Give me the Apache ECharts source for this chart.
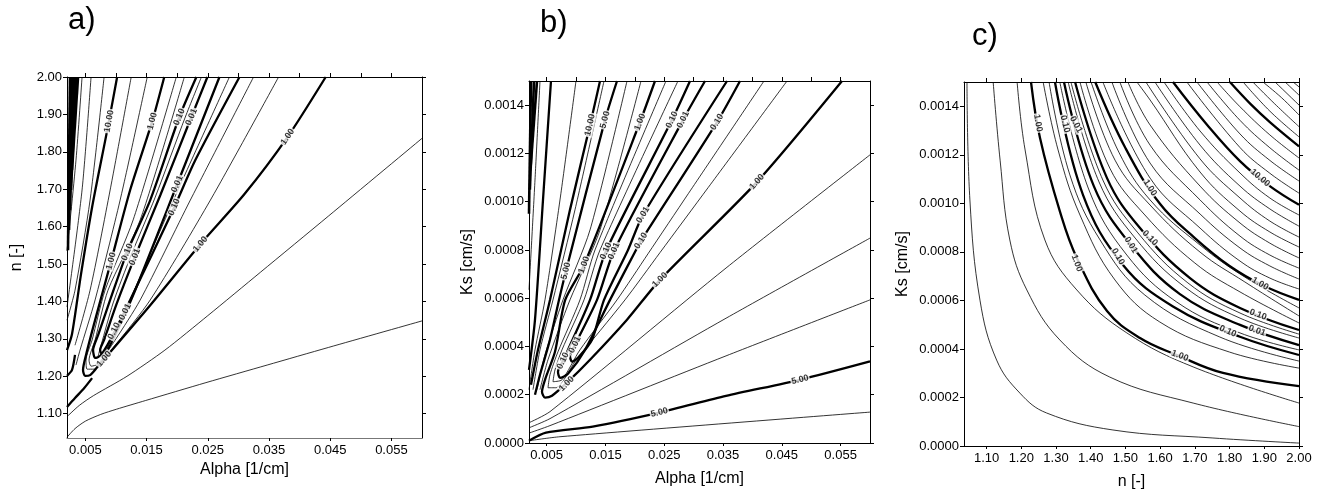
<!DOCTYPE html>
<html><head><meta charset="utf-8">
<script src="https://cdn.jsdelivr.net/npm/echarts@6/dist/echarts.min.js"></script>
<style>html,body{margin:0;padding:0;background:#fff}#c{width:1321px;height:500px}</style>
</head><body><div id="c"></div><script>
// ---------- axis ticks / labels ----------
const alphaLabels = [0.005, 0.015, 0.025, 0.035, 0.045, 0.055];
const alphaTopTicks = [0.005, 0.01, 0.015, 0.02, 0.025, 0.03, 0.035, 0.04, 0.045, 0.05, 0.055];
const nLabels = [1.10, 1.20, 1.30, 1.40, 1.50, 1.60, 1.70, 1.80, 1.90, 2.00];
const ksLabels = [0, 0.0002, 0.0004, 0.0006, 0.0008, 0.0010, 0.0012, 0.0014];
const alphaRange = [0.002, 0.06];
const nRange = [1.035, 2.0];
const ksRange = [0, 0.0015];

// ---------- panel a: n vs Alpha ----------
const aDense1 = [[0.00249,2.0],[0.00216,1.537]];
const aDense2 = [[0.00282,2.0],[0.00233,1.591]];
const aDense3 = [[0.00315,2.0],[0.00249,1.644]];
const aDense4 = [[0.00347,2.0],[0.00266,1.698]];
const aDense5 = [[0.0038,2.0],[0.00282,1.751]];
const aL1 = [[0.00446,2.0],[0.00347,1.778],[0.002,1.535]];
const aL2 = [[0.00593,2.0],[0.00446,1.698],[0.002,1.385]];
const aL3 = [[0.00806,2.0],[0.00577,1.671],[0.00331,1.430],[0.002,1.350]];
const aL4 = [[0.01019,2.0],[0.00855,1.856],[0.0061,1.652],[0.00429,1.473],[0.00282,1.313],[0.002,1.270]];
const aL5 = [[0.01249,2.0],[0.00905,1.698],[0.00577,1.430],[0.00331,1.283]];
const aL6 = [[0.01511,2.0],[0.01068,1.671],[0.00659,1.404],[0.00413,1.270],[0.00347,1.230]];
const aOne = [[0.01789,2.0],[0.01593,1.882],[0.01232,1.698],[0.00921,1.508],[0.00659,1.350],[0.00511,1.257],[0.00462,1.217],[0.00495,1.201],[0.00577,1.203],[0.00692,1.224],[0.0156,1.390],[0.02379,1.553],[0.031,1.687],[0.03805,1.840],[0.04427,2.0]];
const aE0 = [[0.002,1.118],[0.00331,1.142],[0.00479,1.168],[0.0061,1.195]];
const aE1 = [[0.002,1.201],[0.00282,1.217],[0.00331,1.257]];
const aT2 = [[0.01986,2.0],[0.01281,1.618],[0.00822,1.430],[0.0061,1.297],[0.00511,1.243],[0.00528,1.219],[0.00642,1.219],[0.00987,1.283],[0.0156,1.404],[0.02543,1.671],[0.03657,2.0]];
const aT1 = [[0.02117,2.0],[0.01396,1.618],[0.0087,1.430],[0.00659,1.297],[0.0056,1.243],[0.00593,1.227],[0.00708,1.233],[0.00987,1.297],[0.01396,1.404],[0.02215,1.671],[0.03248,2.0]];
const aLoop10 = [[0.02314,2.0],[0.02035,1.893],[0.0156,1.671],[0.01183,1.532],[0.00905,1.404],[0.00708,1.310],[0.00626,1.270],[0.00659,1.249],[0.00741,1.254],[0.00905,1.297],[0.01232,1.404],[0.01953,1.652],[0.02297,1.778],[0.03018,2.0]];
const aLoopMid = [[0.02396,2.0],[0.02133,1.893],[0.01642,1.679],[0.01249,1.524],[0.00954,1.396],[0.00757,1.283],[0.00708,1.254],[0.0079,1.257],[0.00937,1.302],[0.01265,1.417],[0.0197,1.682],[0.02854,2.0]];
const aLoop01 = [[0.02494,2.0],[0.02232,1.893],[0.01724,1.684],[0.01309,1.519],[0.01003,1.390],[0.00806,1.297],[0.00741,1.270],[0.00773,1.259],[0.00839,1.265],[0.00987,1.310],[0.01314,1.430],[0.02002,1.714],[0.02691,2.0]];
const aA2 = [[0.002,1.092],[0.0040,1.122],[0.0063,1.148],[0.0118,1.200],[0.0180,1.270],[0.0250,1.362],[0.0336,1.478],[0.0447,1.628],[0.060,1.836]];
const aA1 = [[0.002,1.037],[0.0033,1.060],[0.0050,1.080],[0.0075,1.098],[0.0101,1.112],[0.0148,1.135],[0.0247,1.183],[0.0347,1.230],[0.0447,1.277],[0.060,1.348]];
const aThin = [aL1, aL2, aL3, aL5, aL6, aT2, aT1, aLoopMid, aA2, aA1];
const aThick = [aL4, aOne, aE0, aE1, aLoop10, aLoop01];
const aDense = [aDense1, aDense2, aDense3, aDense4, aDense5];
const aLabels = [[0.00888,1.882,'10.00'],[0.01593,1.882,'1.00'],[0.02035,1.893,'0.10'],[0.02232,1.893,'0.01'],
  [0.02002,1.714,'0.01'],[0.01953,1.652,'0.10'],[0.03805,1.840,'1.00'],[0.02379,1.553,'1.00'],[0.00806,1.246,'1.00'],
  [0.00921,1.508,'1.00'],[0.01183,1.532,'0.10'],[0.01309,1.519,'0.01'],[0.0115,1.372,'0.01'],[0.0097,1.321,'0.10']];
const aLabelRot = [80,75,67,67,66,66,55,50,49,75,68,68,63,63];

// ---------- panel b: Ks vs Alpha ----------
const bDense1 = [[0.00234,15.0e-4],[0.002,9.5e-4]];
const bDense2 = [[0.00285,15.0e-4],[0.00215,10.5e-4]];
const bDense3 = [[0.00336,15.0e-4],[0.0023,11.5e-4]];
const bL1 = [[0.00387,15.0e-4],[0.00302,10.90e-4],[0.002,6.35e-4]];
const bL2 = [[0.00574,15.0e-4],[0.00438,10.07e-4],[0.00302,5.11e-4],[0.002,3.03e-4]];
const bL3 = [[0.00999,15.0e-4],[0.00727,10.07e-4],[0.00472,5.93e-4],[0.00302,3.86e-4],[0.002,2.21e-4]];
const bTen = [[0.01408,15.0e-4],[0.01238,13.18e-4],[0.00897,9.66e-4],[0.00557,5.93e-4],[0.00353,3.86e-4],[0.00234,2.41e-4]];
const bT1 = [[0.01476,15.0e-4],[0.00982,9.66e-4],[0.00608,5.93e-4],[0.00387,3.86e-4],[0.00268,2.21e-4]];
const bFive = [[0.01697,15.0e-4],[0.01493,13.39e-4],[0.00829,7.13e-4],[0.0071,5.93e-4],[0.00557,4.28e-4],[0.00387,2.83e-4],[0.00302,2.0e-4]];
const bT2 = [[0.01867,15.0e-4],[0.01238,8.83e-4],[0.00778,5.93e-4],[0.00472,3.66e-4],[0.00336,2.21e-4]];
const bT3 = [[0.02105,15.0e-4],[0.01408,8.83e-4],[0.00897,5.93e-4],[0.00523,3.45e-4],[0.00387,2.21e-4]];
const bOne = [[0.02343,15.0e-4],[0.02088,13.30e-4],[0.01136,7.38e-4],[0.00816,5.93e-4],[0.00642,3.78e-4],[0.00472,2.62e-4],[0.00421,2.12e-4],[0.00472,1.88e-4],[0.00591,1.96e-4],[0.00846,2.50e-4],[0.01238,3.45e-4],[0.01867,5.11e-4],[0.02428,6.76e-4],[0.04078,10.82e-4],[0.05524,15.0e-4]];
const bLoopA = [[0.0253,15.0e-4],[0.01323,8.0e-4],[0.01067,5.93e-4],[0.00693,3.78e-4],[0.00557,2.83e-4],[0.00523,2.29e-4],[0.00659,2.29e-4],[0.00982,3.37e-4],[0.01833,5.93e-4],[0.02428,7.89e-4],[0.03249,10.59e-4],[0.04589,15.0e-4]];
const bLoopB = [[0.02734,15.0e-4],[0.01408,8.0e-4],[0.01136,5.93e-4],[0.00761,3.86e-4],[0.00642,3.03e-4],[0.00608,2.54e-4],[0.00761,2.62e-4],[0.01067,3.86e-4],[0.01697,5.93e-4],[0.02224,7.84e-4],[0.02909,10.33e-4],[0.04197,15.0e-4]];
const bLoop10 = [[0.02939,15.0e-4],[0.02632,13.39e-4],[0.0151,7.96e-4],[0.01238,5.93e-4],[0.00863,3.86e-4],[0.00778,3.41e-4],[0.00693,2.95e-4],[0.00727,2.70e-4],[0.00863,2.87e-4],[0.01153,3.86e-4],[0.01578,5.93e-4],[0.0202,8.0e-4],[0.02105,8.38e-4],[0.03398,13.30e-4],[0.03789,15.0e-4]];
const bLoop01 = [[0.03194,15.0e-4],[0.0282,13.39e-4],[0.01646,7.96e-4],[0.01357,5.93e-4],[0.00982,4.07e-4],[0.00897,3.61e-4],[0.00931,3.37e-4],[0.01033,3.53e-4],[0.01272,4.28e-4],[0.01476,5.93e-4],[0.01884,8.0e-4],[0.02139,9.45e-4],[0.03568,15.0e-4]];
const bR5 = [[0.002,0.84e-4],[0.00557,1.30e-4],[0.03551,7.25e-4],[0.060,11.94e-4]];
const bR4 = [[0.002,0.63e-4],[0.00557,1.01e-4],[0.03551,5.17e-4],[0.060,8.49e-4]];
const bR3 = [[0.002,0.41e-4],[0.00557,0.72e-4],[0.03551,3.61e-4],[0.060,5.93e-4]];
const bR2 = [[0.002,0.095e-4],[0.00489,0.43e-4],[0.01284,0.68e-4],[0.02416,1.26e-4],[0.03551,1.95e-4],[0.0481,2.62e-4],[0.060,3.38e-4]];
const bR1 = [[0.002,0.095e-4],[0.00727,0.26e-4],[0.060,1.28e-4]];
const bThin = [bL1, bL3, bT1, bT2, bT3, bLoopA, bLoopB, bR5, bR4, bR3, bR1];
const bThick = [bL2, bTen, bFive, bOne, bLoop10, bLoop01, bR2];
const bDense = [bDense1, bDense2, bDense3];
const bLabels = [[0.01238,13.18e-4,'10.00'],[0.01493,13.39e-4,'5.00'],[0.02088,13.30e-4,'1.00'],[0.02632,13.39e-4,'0.10'],
  [0.0282,13.39e-4,'0.01'],[0.03398,13.30e-4,'0.10'],[0.04078,10.82e-4,'1.00'],[0.02428,6.76e-4,'1.00'],[0.0084,2.45e-4,'1.00'],
  [0.02416,1.26e-4,'5.00'],[0.0481,2.62e-4,'5.00'],[0.00829,7.13e-4,'5.00'],[0.01136,7.38e-4,'1.00'],[0.0151,7.96e-4,'0.10'],
  [0.01646,7.96e-4,'0.01'],[0.02139,9.45e-4,'0.01'],[0.02105,8.38e-4,'0.10'],[0.00778,3.41e-4,'0.10'],[0.00982,4.07e-4,'0.01']];
const bLabelRot = [77,75,69,64,64,58,48,45,45,14,14,76,70,66,66,58,58,64,64];

// ---------- panel c: Ks vs n ----------
const cC1 = [[1.0436,15.0e-4],[1.052,10.14e-4],[1.081,6.01e-4],[1.129,3.54e-4],[1.196,2.18e-4],[1.273,1.36e-4],[1.464,0.66e-4],[1.752,0.33e-4],[2.0,0.12e-4]];
const cC2 = [[1.119,15.0e-4],[1.139,11.78e-4],[1.167,8.49e-4],[1.216,6.43e-4],[1.311,4.37e-4],[1.455,2.84e-4],[1.695,1.77e-4],[2.0,0.80e-4]];
const cC3 = [[1.188,15.0e-4],[1.211,12.2e-4],[1.268,8.49e-4],[1.360,6.43e-4],[1.504,4.66e-4],[1.695,3.26e-4],[2.0,1.77e-4]];
const cOneLow = [[1.228,15.0e-4],[1.254,12.69e-4],[1.311,9.68e-4],[1.360,7.75e-4],[1.447,5.56e-4],[1.542,4.45e-4],[1.648,3.75e-4],[1.781,3.01e-4],[2.0,2.47e-4]];
const cB1 = [[1.263,15.0e-4],[1.306,12.2e-4],[1.369,9.52e-4],[1.470,6.84e-4],[1.599,5.11e-4],[1.800,3.87e-4],[2.0,3.21e-4]];
const cB2 = [[1.280,15.0e-4],[1.340,11.17e-4],[1.427,8.49e-4],[1.556,6.22e-4],[1.772,4.49e-4],[2.0,3.50e-4]];
const cBandLow = [[1.297,15.0e-4],[1.378,10.34e-4],[1.493,7.46e-4],[1.637,5.75e-4],[1.830,4.50e-4],[2.0,3.75e-4]];
const cB3 = [[1.311,15.0e-4],[1.395,10.55e-4],[1.504,7.87e-4],[1.648,5.93e-4],[1.830,4.66e-4],[2.0,3.96e-4]];
const cBandMid = [[1.323,15.0e-4],[1.409,10.71e-4],[1.516,8.28e-4],[1.657,6.26e-4],[1.830,4.99e-4],[2.0,4.16e-4]];
const cB4 = [[1.335,15.0e-4],[1.424,10.88e-4],[1.528,8.57e-4],[1.671,6.55e-4],[1.830,5.27e-4],[2.0,4.45e-4]];
const cB5 = [[1.343,15.0e-4],[1.435,10.96e-4],[1.536,8.78e-4],[1.680,6.72e-4],[1.830,5.48e-4],[2.0,4.61e-4]];
const cBandUp = [[1.355,15.0e-4],[1.447,11.04e-4],[1.542,8.98e-4],[1.686,6.92e-4],[1.830,5.69e-4],[2.0,4.78e-4]];
const cB6 = [[1.369,15.0e-4],[1.455,11.45e-4],[1.556,9.52e-4],[1.700,7.54e-4],[1.830,6.35e-4],[2.0,5.07e-4]];
const cB7 = [[1.386,15.0e-4],[1.470,11.78e-4],[1.571,9.93e-4],[1.715,7.99e-4],[1.844,6.76e-4],[2.0,5.36e-4]];
const cB8 = [[1.401,15.0e-4],[1.481,12.11e-4],[1.571,10.14e-4],[1.715,8.28e-4],[1.844,6.96e-4],[2.0,5.69e-4]];
const cOneUp = [[1.413,15.0e-4],[1.5,12.28e-4],[1.6,9.97e-4],[1.7,8.57e-4],[1.8,7.42e-4],[1.9,6.59e-4],[2.0,6.02e-4]];
const cK1 = [[1.435,15.0e-4],[1.571,11.04e-4],[1.715,8.98e-4],[1.830,7.62e-4],[1.916,6.92e-4],[2.0,6.47e-4]];
const cK2 = [[1.461,15.0e-4],[1.571,11.66e-4],[1.715,9.56e-4],[1.830,8.16e-4],[1.916,7.42e-4],[2.0,6.88e-4]];
const cK3 = [[1.484,15.0e-4],[1.571,12.40e-4],[1.715,10.14e-4],[1.830,8.65e-4],[1.916,7.87e-4],[2.0,7.33e-4]];
const cK4 = [[1.507,15.0e-4],[1.571,13.23e-4],[1.715,10.71e-4],[1.830,9.19e-4],[1.916,8.36e-4],[2.0,7.75e-4]];
const cK5 = [[1.533,15.0e-4],[1.571,14.26e-4],[1.715,11.29e-4],[1.830,9.68e-4],[1.916,8.82e-4],[2.0,8.20e-4]];
const cK6 = [[1.559,15.0e-4],[1.715,11.83e-4],[1.830,10.22e-4],[1.916,9.27e-4],[2.0,8.61e-4]];
const cK7 = [[1.585,15.0e-4],[1.715,12.40e-4],[1.830,10.71e-4],[1.916,9.77e-4],[2.0,9.06e-4]];
const cK8 = [[1.611,15.0e-4],[1.715,12.98e-4],[1.830,11.25e-4],[1.916,10.22e-4],[2.0,9.52e-4]];
const cTen = [[1.637,15.0e-4],[1.735,13.24e-4],[1.830,11.74e-4],[1.916,10.71e-4],[2.0,9.94e-4]];
const cM1 = [[1.677,15.0e-4],[1.830,12.30e-4],[1.916,11.24e-4],[2.0,10.42e-4]];
const cM2 = [[1.706,15.0e-4],[1.830,12.86e-4],[1.916,11.77e-4],[2.0,10.92e-4]];
const cM3 = [[1.735,15.0e-4],[1.830,13.42e-4],[1.916,12.29e-4],[2.0,11.37e-4]];
const cM4 = [[1.764,15.0e-4],[1.830,13.98e-4],[1.916,12.82e-4],[2.0,11.87e-4]];
const cTR = [[1.801,15.0e-4],[1.860,14.10e-4],[1.916,13.35e-4],[2.0,12.35e-4]];
const cN1 = [[1.839,15.0e-4],[1.916,13.80e-4],[2.0,12.74e-4]];
const cN2 = [[1.867,15.0e-4],[1.930,14.10e-4],[2.0,13.16e-4]];
const cN3 = [[1.896,15.0e-4],[1.950,14.35e-4],[2.0,13.64e-4]];
const cN4 = [[1.931,15.0e-4],[2.0,14.05e-4]];
const cN5 = [[1.960,15.0e-4],[2.0,14.46e-4]];
const cN6 = [[1.983,15.0e-4],[2.0,14.80e-4]];
const cThin = [cC1, cC2, cC3, cB1, cB2, cB3, cB4, cB5, cB6, cB7, cB8, cK1, cK2, cK3, cK4, cK5, cK6, cK7, cK8, cM1, cM2, cM3, cM4, cN1, cN2, cN3, cN4, cN5, cN6];
const cThick = [cOneLow, cBandLow, cBandMid, cBandUp, cOneUp, cTen, cTR];
const cLabels = [[1.248,13.31e-4,'1.00'],[1.360,7.54e-4,'1.00'],[1.657,3.72e-4,'1.00'],[1.326,13.27e-4,'0.10'],[1.358,13.25e-4,'0.01'],
  [1.571,8.57e-4,'0.10'],[1.516,8.28e-4,'0.01'],[1.479,7.81e-4,'0.10'],[1.882,5.41e-4,'0.10'],[1.879,4.75e-4,'0.01'],[1.795,4.73e-4,'0.10'],
  [1.571,10.64e-4,'1.00'],[1.888,6.69e-4,'1.00'],[1.888,11.05e-4,'10.00']];
const cLabelRot = [-80,-70,-21,-76,-62,-45,-58,-60,-20,-20,-24,-58,-30,-40];

// ---------- build chart ----------
const FONT = '"Liberation Sans", Arial, sans-serif';
const grids = [
  {left: 67, top: 77, width: 355, height: 361},
  {left: 529, top: 81, width: 341, height: 362},
  {left: 964, top: 82, width: 335, height: 364}
];
const xRanges = [alphaRange, alphaRange, nRange];
const yRanges = [nRange, ksRange, ksRange];
const xLab = [alphaLabels, alphaLabels, nLabels];
const xTop = [alphaTopTicks, alphaTopTicks, nLabels];
const yLab = [nLabels, ksLabels, ksLabels];
const xFmt = [v => v.toFixed(3), v => v.toFixed(3), v => v.toFixed(2)];
const yFmt = [v => v.toFixed(2), v => v.toFixed(4), v => v.toFixed(4)];
const xNames = ['Alpha [1/cm]', 'Alpha [1/cm]', 'n [-]'];
const yNames = ['n [-]', 'Ks [cm/s]', 'Ks [cm/s]'];
const xGap = [23, 28, 28];
const yGap = [42, 53, 53];

const xAxis = [], yAxis = [];
const lineBlack = {color: '#000', width: 1};
for (let p = 0; p < 3; p++) {
  xAxis.push({type: 'value', gridIndex: p, min: xRanges[p][0], max: xRanges[p][1], position: 'bottom',
    axisLine: {show: true, onZero: false, lineStyle: p === 0 ? {color: '#777', width: 1} : lineBlack},
    axisTick: {show: true, inside: false, length: 3, customValues: xLab[p], lineStyle: lineBlack},
    axisLabel: {customValues: xLab[p], formatter: xFmt[p], color: '#000', fontSize: 13, fontFamily: FONT, margin: 6},
    splitLine: {show: false},
    name: xNames[p], nameLocation: 'middle', nameGap: xGap[p],
    nameTextStyle: {color: '#000', fontSize: 16, fontFamily: FONT}});
  xAxis.push({type: 'value', gridIndex: p, min: xRanges[p][0], max: xRanges[p][1], position: 'top',
    axisLine: {show: true, onZero: false, lineStyle: lineBlack},
    axisTick: {show: true, inside: false, length: 4, customValues: xTop[p], lineStyle: lineBlack},
    axisLabel: {show: false}, splitLine: {show: false}});
  yAxis.push({type: 'value', gridIndex: p, min: yRanges[p][0], max: yRanges[p][1], position: 'left',
    axisLine: {show: true, onZero: false, lineStyle: lineBlack},
    axisTick: {show: true, inside: false, length: 4, customValues: yLab[p], lineStyle: lineBlack},
    axisLabel: {customValues: yLab[p], formatter: yFmt[p], color: '#000', fontSize: 13, fontFamily: FONT, margin: 5},
    splitLine: {show: false},
    name: yNames[p], nameLocation: 'middle', nameGap: yGap[p], nameRotate: 90,
    nameTextStyle: {color: '#000', fontSize: 16, fontFamily: FONT}});
  yAxis.push({type: 'value', gridIndex: p, min: yRanges[p][0], max: yRanges[p][1], position: 'right',
    axisLine: {show: true, onZero: false, lineStyle: lineBlack},
    axisTick: {show: true, inside: false, length: 4, customValues: yLab[p], lineStyle: lineBlack},
    axisLabel: {show: false}, splitLine: {show: false}});
}

const series = [];
function addLines(list, p, width, smooth) {
  list.forEach(d => series.push({type: 'line', xAxisIndex: 2 * p, yAxisIndex: 2 * p, data: d,
    showSymbol: false, symbol: 'none', smooth: smooth, silent: true, animation: false,
    lineStyle: {color: '#000', width: width}, z: width > 1.5 ? 3 : 2}));
}
addLines(aDense, 0, 2.6, 0.2);
addLines(aThin, 0, 0.8, 0.25);
addLines(aThick, 0, 2.3, 0.25);
addLines(bDense, 1, 2.6, 0.2);
addLines(bThin, 1, 0.8, 0.25);
addLines(bThick, 1, 2.3, 0.25);
addLines(cThin, 2, 0.8, 0.4);
addLines(cThick, 2, 2.3, 0.4);

function addLabels(pts, rots, p) {
  series.push({type: 'scatter', xAxisIndex: 2 * p, yAxisIndex: 2 * p, symbolSize: 0, silent: true, animation: false, z: 10,
    data: pts.map((d, i) => ({value: [d[0], d[1]], label: {show: true, formatter: d[2], rotate: rots[i]}})),
    label: {show: true, position: 'inside', color: '#000', fontSize: 9, fontWeight: 'bold', fontFamily: FONT,
      backgroundColor: '#fff', padding: [0, 1]}});
}
addLabels(aLabels, aLabelRot, 0);
addLabels(bLabels, bLabelRot, 1);
addLabels(cLabels, cLabelRot, 2);

const chart = echarts.init(document.getElementById('c'), null, {renderer: 'canvas'});
chart.setOption({
  animation: false,
  backgroundColor: '#fff',
  grid: grids,
  xAxis: xAxis,
  yAxis: yAxis,
  series: series,
  graphic: [
    {type: 'text', left: 68, top: 5, style: {text: 'a)', font: '31px ' + FONT, fill: '#000'}},
    {type: 'text', left: 540, top: 8, style: {text: 'b)', font: '31px ' + FONT, fill: '#000'}},
    {type: 'text', left: 972, top: 21, style: {text: 'c)', font: '31px ' + FONT, fill: '#000'}}
  ]
});
</script></body></html>
